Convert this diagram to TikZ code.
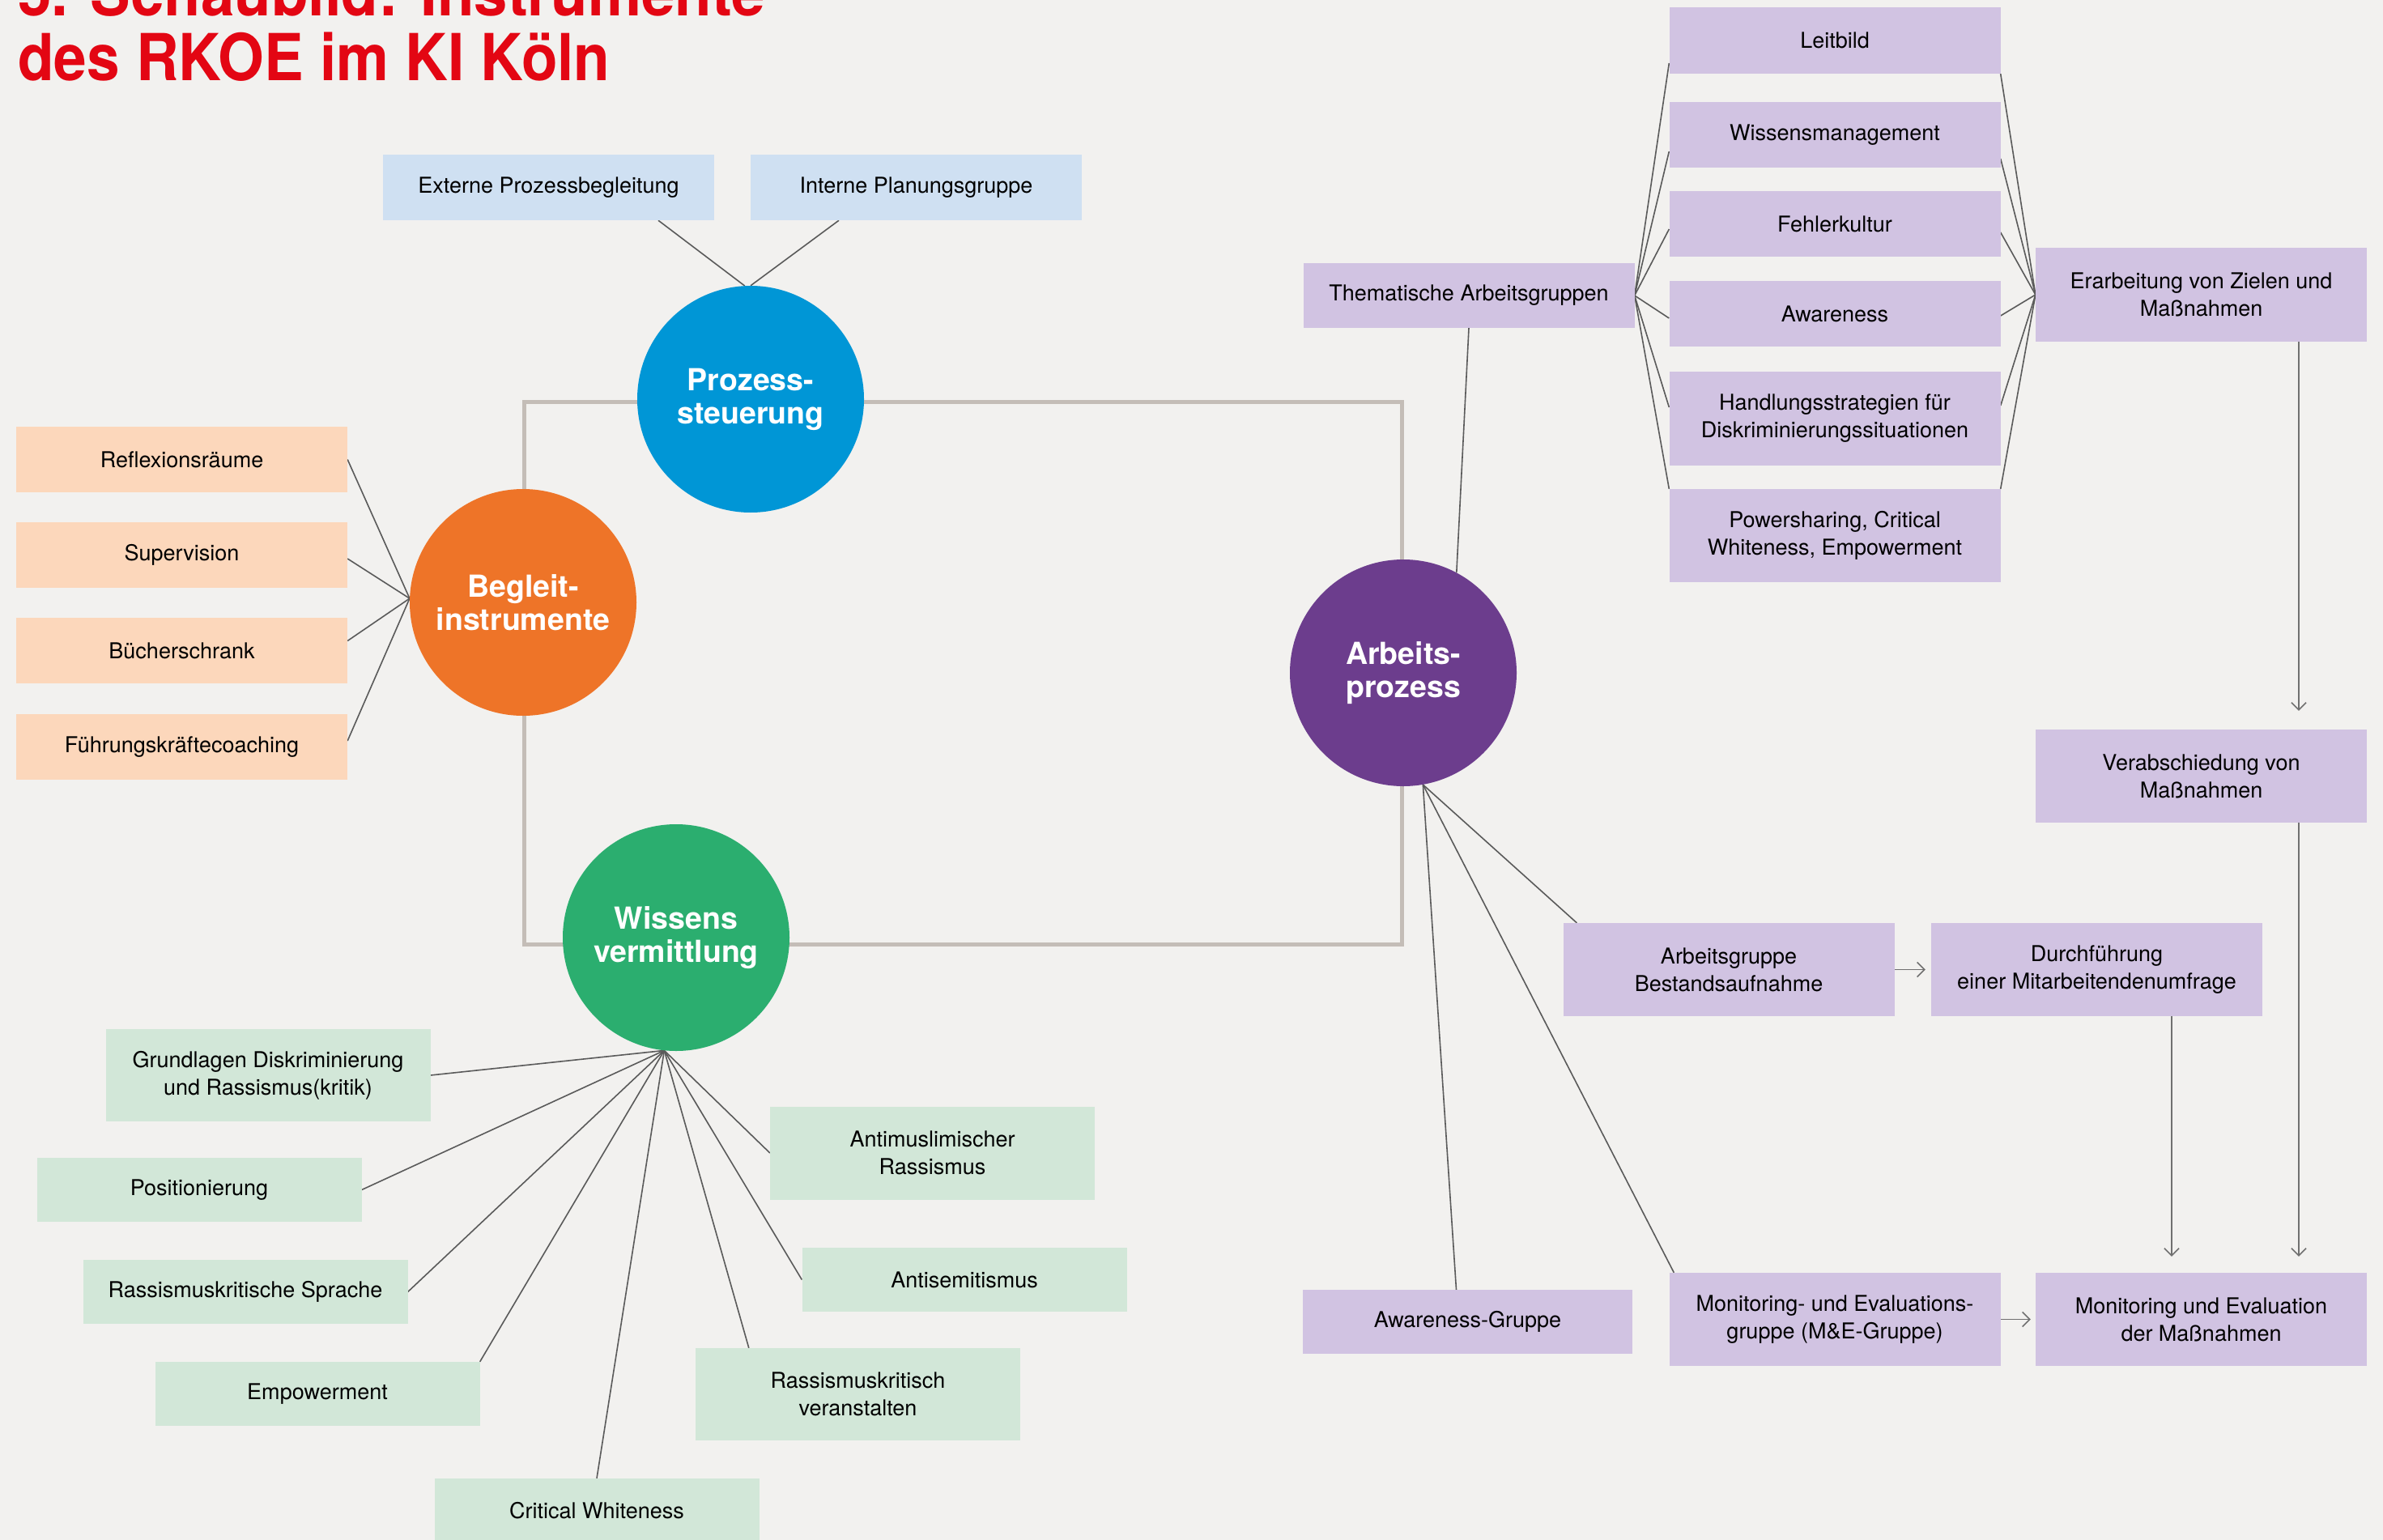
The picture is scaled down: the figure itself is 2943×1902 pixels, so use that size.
\documentclass[tikz,border=0pt]{standalone}
\usepackage{fontspec}
\setmainfont{TeX Gyre Heros}
\usetikzlibrary{arrows.meta,calc}
\pgfdeclarelayer{bg}
\pgfsetlayers{bg,main}
\definecolor{bgc}{HTML}{F2F1EF}
\definecolor{lineGrey}{HTML}{5A5A5A}
\definecolor{arrGrey}{HTML}{707070}
\definecolor{frameGrey}{HTML}{C4BDB7}
\definecolor{titleRed}{HTML}{E30613}
\definecolor{cBlue}{HTML}{0096D6}
\definecolor{cOrange}{HTML}{EE7428}
\definecolor{cGreen}{HTML}{2BAE6F}
\definecolor{cPurple}{HTML}{6C3D8D}
\definecolor{bBlue}{HTML}{CFE0F2}
\definecolor{bOrange}{HTML}{FCD7BB}
\definecolor{bGreen}{HTML}{D2E7D8}
\definecolor{bPurple}{HTML}{D1C3E2}
\begin{document}
\begin{tikzpicture}[x=1pt,y=-1pt,
  box/.style={rectangle, inner sep=0pt, minimum width=409pt, text=black,
    font=\fontsize{27}{34}\selectfont, align=center},
  bluebox/.style={box, fill=bBlue},
  orangebox/.style={box, fill=bOrange},
  greenbox/.style={box, fill=bGreen, minimum width=401pt},
  purplebox/.style={box, fill=bPurple},
  circ/.style={circle, minimum size=280pt, inner sep=0pt, text=white,
    font=\bfseries\fontsize{37.5}{41}\selectfont, align=center},
  conn/.style={draw=lineGrey, line width=1.6pt},
  arr/.style={draw=arrGrey, line width=1.6pt, -{Straight Barb[length=9pt,width=18pt]}},
  titletext/.style={anchor=base west, inner sep=0pt, text=titleRed,
    font=\bfseries\fontsize{80}{80}\selectfont}
]
\useasboundingbox (0,0) rectangle (2943,1902);
\begin{pgfonlayer}{bg}
\fill[bgc] (0,0) rectangle (2943,1902);
\draw[frameGrey, line width=5pt] (647,496) rectangle (1731,1166);
\end{pgfonlayer}
\clip (0,0) rectangle (2943,1902);

% title
\node[titletext] (t1) at (22,20) {\scalebox{0.93}[1]{5. Schaubild: Instrumente}};
\node[titletext] (t2) at (22,100) {\scalebox{0.912}[1]{des RKOE im KI Köln}};

% circles
\node[circ, fill=cBlue] (pro) at (927,493) {Prozess-\\steuerung};
\node[circ, fill=cOrange] (beg) at (646,744) {Begleit-\\instrumente};
\node[circ, fill=cGreen] (wis) at (835,1158) {Wissens\\vermittlung};
\node[circ, fill=cPurple] (arb) at (1733,831) {Arbeits-\\prozess};

% blue boxes
\node[bluebox, minimum height=81pt] (ext) at (677.5,231.5) {Externe Prozessbegleitung};
\node[bluebox, minimum height=81pt] (int) at (1131.5,231.5) {Interne Planungsgruppe};

% orange boxes
\node[orangebox, minimum height=81pt] (refl) at (224.5,567.5) {Reflexionsräume};
\node[orangebox, minimum height=81pt] (sup) at (224.5,685.5) {Supervision};
\node[orangebox, minimum height=81pt] (buch) at (224.5,803.5) {Bücherschrank};
\node[orangebox, minimum height=81pt] (fuehr) at (224.5,922.5) {Führungskräftecoaching};

% green boxes
\node[greenbox, minimum height=114pt] (grund) at (331,1328) {Grundlagen Diskriminierung\\und Rassismus(kritik)};
\node[greenbox, minimum height=79pt] (pos) at (246,1469.5) {Positionierung};
\node[greenbox, minimum height=79pt] (sprache) at (303,1595.5) {Rassismuskritische Sprache};
\node[greenbox, minimum height=79pt] (emp) at (392,1721.5) {Empowerment};
\node[greenbox, minimum height=80pt] (cw) at (737,1866) {Critical Whiteness};
\node[greenbox, minimum height=114pt] (veran) at (1059.5,1722) {Rassismuskritisch\\veranstalten};
\node[greenbox, minimum height=79pt] (antisem) at (1191,1580.5) {Antisemitismus};
\node[greenbox, minimum height=115pt] (antimus) at (1151.5,1424) {Antimuslimischer\\Rassismus};

% purple boxes
\node[purplebox, minimum height=80pt] (them) at (1814,365) {Thematische Arbeitsgruppen};
\node[purplebox, minimum height=82pt] (leit) at (2266,50) {Leitbild};
\node[purplebox, minimum height=81pt] (wiss) at (2266,166.5) {Wissensmanagement};
\node[purplebox, minimum height=81pt] (fehl) at (2266,276.5) {Fehlerkultur};
\node[purplebox, minimum height=81pt] (awar) at (2266,387.5) {Awareness};
\node[purplebox, minimum height=116pt] (handl) at (2266,517) {Handlungsstrategien für\\Diskriminierungssituationen};
\node[purplebox, minimum height=115pt] (power) at (2266,661.5) {Powersharing, Critical\\Whiteness, Empowerment};
\node[purplebox, minimum height=116pt] (erarb) at (2718.5,364) {Erarbeitung von Zielen und\\Maßnahmen};
\node[purplebox, minimum height=115pt] (verab) at (2718.5,958.5) {Verabschiedung von\\Maßnahmen};
\node[purplebox, minimum height=115pt] (bestand) at (2135,1197.5) {Arbeitsgruppe\\Bestandsaufnahme};
\node[purplebox, minimum height=115pt] (durch) at (2589.5,1197.5) {Durchführung\\einer Mitarbeitendenumfrage};
\node[purplebox, minimum height=79pt, minimum width=407pt] (awgr) at (1812.5,1632.5) {Awareness-Gruppe};
\node[purplebox, minimum height=115pt] (me) at (2266,1629.5) {Monitoring- und Evaluations-\\gruppe (M\&E-Gruppe)};
\node[purplebox, minimum height=115pt] (moneval) at (2718.5,1629.5) {Monitoring und Evaluation\\der Maßnahmen};

\coordinate (wfan) at (wis.-96);
\coordinate (afan) at (arb.-80);

\begin{pgfonlayer}{bg}
% Prozesssteuerung
\draw[conn] ([xshift=135.5pt]ext.south) -- (pro.93.7);
\draw[conn] ([xshift=-95.5pt]int.south) -- (pro.north);
% Begleitinstrumente
\draw[conn] (refl.east) -- (beg.178.4);
\draw[conn] ([yshift=-4.5pt]sup.east) -- (beg.178.4);
\draw[conn] ([yshift=12pt]buch.east) -- (beg.178.4);
\draw[conn] ([yshift=7.5pt]fuehr.east) -- (beg.178.4);
% Wissensvermittlung
\draw[conn] (wfan) -- (grund.east);
\draw[conn] (wfan) -- (pos.east);
\draw[conn] (wfan) -- (sprache.east);
\draw[conn] (wfan) -- (emp.north east);
\draw[conn] (wfan) -- (cw.north);
\draw[conn] (wfan) -- ([xshift=66pt]veran.north west);
\draw[conn] (wfan) -- (antisem.west);
\draw[conn] (wfan) -- (antimus.west);
% Arbeitsprozess
\draw[conn] (them.south) -- (arb.62.5);
\draw[conn] (afan) -- ([xshift=17pt]bestand.north west);
\draw[conn] (afan) -- ([xshift=6pt]me.north west);
\draw[conn] (afan) -- ([xshift=-14pt]awgr.north);
% Thematische fan
\draw[conn] (them.east) -- ([yshift=-28pt]leit.west);
\draw[conn] (them.east) -- ([yshift=-20.5pt]wiss.west);
\draw[conn] (them.east) -- ([yshift=-6.5pt]fehl.west);
\draw[conn] (them.east) -- ([yshift=-5.5pt]awar.west);
\draw[conn] (them.east) -- ([yshift=14pt]handl.west);
\draw[conn] (them.east) -- (power.north west);
% to Erarbeitung
\draw[conn] (leit.south east) -- (erarb.west);
\draw[conn] ([yshift=-29.5pt]wiss.east) -- (erarb.west);
\draw[conn] ([yshift=-10.5pt]fehl.east) -- (erarb.west);
\draw[conn] ([yshift=-2.5pt]awar.east) -- (erarb.west);
\draw[conn] ([yshift=16pt]handl.east) -- (erarb.west);
\draw[conn] (power.north east) -- (erarb.west);
% arrows
\draw[arr, shorten >=23pt] ([xshift=120.5pt]erarb.south) -- ([xshift=120.5pt]verab.north);
\draw[arr, shorten >=20pt] ([xshift=120.5pt]verab.south) -- ([xshift=120.5pt]moneval.north);
\draw[arr, shorten >=20pt] ([xshift=92.5pt]durch.south) -- ([xshift=-36.5pt]moneval.north);
\draw[arr, shorten >=7pt] (bestand.east) -- (durch.west);
\draw[arr, shorten >=6pt] (me.east) -- (moneval.west);
\end{pgfonlayer}
\end{tikzpicture}
\end{document}
